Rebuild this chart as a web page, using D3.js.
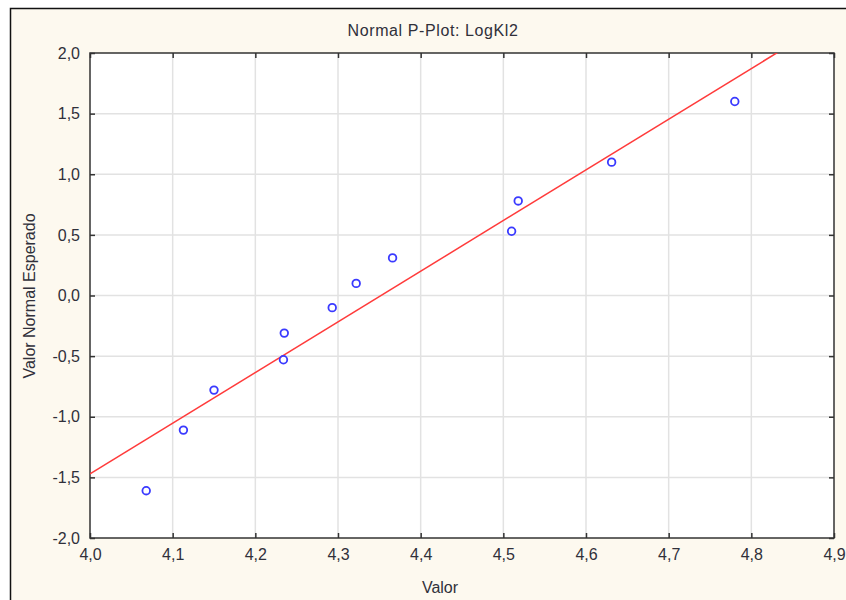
<!DOCTYPE html>
<html>
<head>
<meta charset="utf-8">
<script src="https://cdn.jsdelivr.net/npm/d3@7"></script>
<style>
  body { margin: 0; background: #fff; }
  text { font-family: "Liberation Sans", Arial, sans-serif; fill: #30303a; }
</style>
</head>
<body>
<div class="chart-pplot"></div>
<script>
const valor = [4.068, 4.113, 4.150, 4.234, 4.235, 4.293, 4.322, 4.366, 4.510, 4.518, 4.631, 4.780];
const esperado = [-1.61, -1.11, -0.78, -0.53, -0.31, -0.10, 0.10, 0.31, 0.53, 0.78, 1.10, 1.60];
const xTicks = [4.0, 4.1, 4.2, 4.3, 4.4, 4.5, 4.6, 4.7, 4.8, 4.9];
const yTicks = [-2.0, -1.5, -1.0, -0.5, 0.0, 0.5, 1.0, 1.5, 2.0];

const W = 846, H = 600;
const margin = { top: 53, right: 12, bottom: 62, left: 90 };
const width = W - margin.left - margin.right,
  height = H - margin.top - margin.bottom;

// comma as decimal separator, plain hyphen as minus
const loc = d3.formatLocale({ decimal: ',', thousands: '.', grouping: [3], currency: ['', ''], minus: '-' });
const fmt = loc.format('.1f');

const svg = d3.select('.chart-pplot').append('svg')
  .attr('width', W)
  .attr('height', H);

// outer frame
svg.append('rect')
  .attr('x', 10.5).attr('y', 8.5)
  .attr('width', W + 10).attr('height', H + 10)
  .attr('fill', '#fdf9ef')
  .attr('stroke', '#111')
  .attr('stroke-width', 1.5);

const g = svg.append('g')
  .attr('transform', 'translate(' + margin.left + ',' + margin.top + ')');

const x = d3.scaleLinear().domain([4.0, 4.9]).range([0, width]);
const y = d3.scaleLinear().domain([-2.0, 2.0]).range([height, 0]);

g.append('rect')
  .attr('width', width).attr('height', height)
  .attr('fill', '#fff');

// grid
g.append('g').selectAll('line')
  .data(xTicks.slice(1, -1))
  .enter().append('line')
  .attr('x1', (d) => x(d)).attr('x2', (d) => x(d))
  .attr('y1', 0).attr('y2', height)
  .attr('stroke', '#e2e2e2').attr('stroke-width', 1.5);

g.append('g').selectAll('line')
  .data(yTicks.slice(1, -1))
  .enter().append('line')
  .attr('y1', (d) => y(d)).attr('y2', (d) => y(d))
  .attr('x1', 0).attr('x2', width)
  .attr('stroke', '#e2e2e2').attr('stroke-width', 1.5);

// axes, ticks pointing inwards
const styleAxis = (sel) => {
  sel.select('.domain').remove();
  sel.selectAll('line').attr('stroke', '#333').attr('stroke-width', 1.5);
  sel.selectAll('text').style('font-size', '16px').attr('fill', '#30303a');
};

g.append('g')
  .attr('transform', 'translate(0,' + height + ')')
  .call(d3.axisBottom(x).tickValues(xTicks).tickFormat(fmt).tickSizeInner(-5).tickSizeOuter(0).tickPadding(11))
  .call(styleAxis);

g.append('g')
  .call(d3.axisTop(x).tickValues(xTicks).tickFormat('').tickSizeInner(-5).tickSizeOuter(0))
  .call(styleAxis);

g.append('g')
  .call(d3.axisLeft(y).tickValues(yTicks).tickFormat(fmt).tickSizeInner(-5).tickSizeOuter(0).tickPadding(10))
  .call(styleAxis);

g.append('g')
  .attr('transform', 'translate(' + width + ',0)')
  .call(d3.axisRight(y).tickValues(yTicks).tickFormat('').tickSizeInner(-5).tickSizeOuter(0))
  .call(styleAxis);

// plot border
g.append('rect')
  .attr('width', width).attr('height', height)
  .attr('fill', 'none')
  .attr('stroke', '#333')
  .attr('stroke-width', 1.5);

// least squares fit of expected normal on value
const xm = d3.mean(valor), ym = d3.mean(esperado);
const sxy = d3.sum(valor, (v, i) => (v - xm) * (esperado[i] - ym));
const sxx = d3.sum(valor, (v) => (v - xm) * (v - xm));
const slope = sxy / sxx, icpt = ym - slope * xm;

g.append('clipPath').attr('id', 'clip')
  .append('rect').attr('width', width).attr('height', height);

g.append('line')
  .attr('clip-path', 'url(#clip)')
  .attr('x1', x(4.0)).attr('y1', y(icpt + slope * 4.0))
  .attr('x2', x(4.9)).attr('y2', y(icpt + slope * 4.9))
  .attr('stroke', '#ff3b3b')
  .attr('stroke-width', 1.5);

// points
g.selectAll('.pt')
  .data(valor)
  .enter().append('circle')
  .attr('class', 'pt')
  .attr('cx', (d) => x(d))
  .attr('cy', (d, i) => y(esperado[i]))
  .attr('r', 3.8)
  .attr('fill', 'none')
  .attr('stroke', '#3a3aff')
  .attr('stroke-width', 1.8);

// titles
svg.append('text')
  .attr('x', 433).attr('y', 36)
  .attr('text-anchor', 'middle')
  .style('font-size', '16px')
  .style('letter-spacing', '0.6px')
  .text('Normal P-Plot: LogKl2');

svg.append('text')
  .attr('x', 440).attr('y', 593)
  .attr('text-anchor', 'middle')
  .style('font-size', '16px')
  .text('Valor');

svg.append('text')
  .attr('transform', 'translate(35,296) rotate(-90)')
  .attr('text-anchor', 'middle')
  .style('font-size', '16px')
  .text('Valor Normal Esperado');
</script>
</body>
</html>
